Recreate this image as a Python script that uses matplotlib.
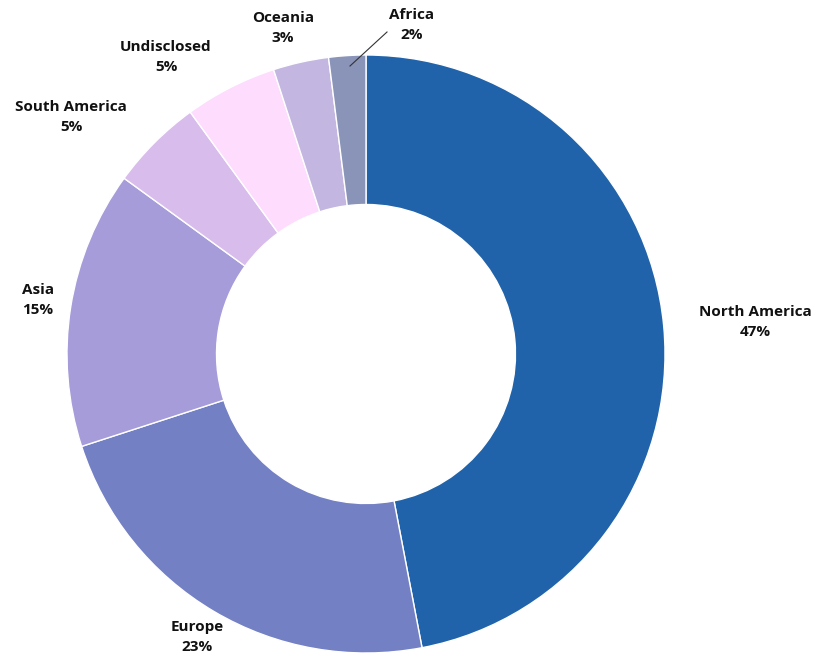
import matplotlib
matplotlib.use('Agg')
import matplotlib.pyplot as plt

regions = ['North America', 'Europe', 'Asia', 'South America', 'Undisclosed', 'Oceania', 'Africa']
shares = [47, 23, 15, 5, 5, 3, 2]
colors = ['#2163aa', '#7380c4', '#a59cd9', '#d8bceb', '#fddcfd', '#c3b6e0', '#8a93b8']

# label spots in pixel space (x right, y down), hand placed like the original
label_xy = [(755, 322), (197, 637), (38, 300), (71, 117), (166, 57), (283, 28), (412, 25)]

W, H = 813, 660
fig = plt.figure(figsize=(W/100, H/100), dpi=100)
ax = fig.add_axes([0, 0, 1, 1])

cx, cy, r = 366, H-354, 299
wedges, _ = ax.pie(shares, colors=colors, startangle=90, counterclock=False,
                   center=(cx, cy), radius=r, frame=True,
                   wedgeprops=dict(width=r*0.5, edgecolor='white', linewidth=1))
ax.set_xlim(0, W)
ax.set_ylim(0, H)
ax.set_aspect('equal')
ax.axis('off')

for name, val, (lx, ly) in zip(regions, shares, label_xy):
    ax.text(lx, H-ly, f'{name}\n{val}%', ha='center', va='center', fontsize=11,
            fontweight='bold', family='Open Sans', color='#111111', linespacing=1.55)

# leader line for the Africa slice
ax.plot([350, 387], [H-66, H-32], color='#333333', lw=0.8)

fig.savefig('out.png', dpi=100)
